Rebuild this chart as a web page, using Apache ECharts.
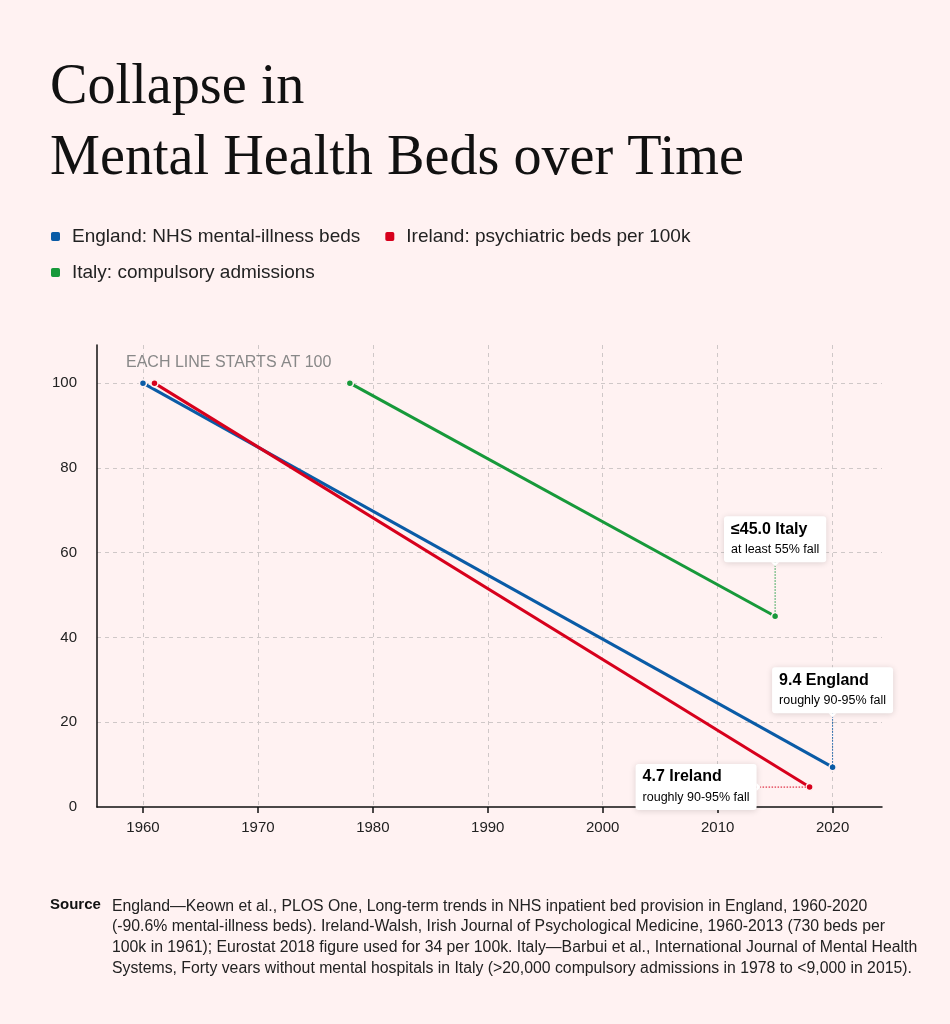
<!DOCTYPE html>
<html>
<head>
<meta charset="utf-8">
<script src="https://cdn.jsdelivr.net/npm/echarts@6/dist/echarts.min.js"></script>
<style>
  html, body { margin: 0; padding: 0; background: #fff2f2; }
  #chart { width: 950px; height: 1024px; }
</style>
</head>
<body>
<div id="chart"></div>
<script>
// each line indexed so its first year = 100
var seriesNames = ['England: NHS mental-illness beds', 'Ireland: psychiatric beds per 100k', 'Italy: compulsory admissions'];
var seriesColors = ['#0a5ba6', '#d7001c', '#17993a'];

var englandYears = [1960, 2020];
var englandValues = [100, 9.4];
var irelandYears = [1961, 2018];
var irelandValues = [100, 4.7];
var italyYears = [1978, 2015];
var italyValues = [100, 45.0];

var xTicks = [1960, 1970, 1980, 1990, 2000, 2010, 2020];

// end-of-line callouts
var calloutTitles = ['9.4 England', '4.7 Ireland', '\u226445.0 Italy'];
var calloutNotes = ['roughly 90-95% fall', 'roughly 90-95% fall', 'at least 55% fall'];

var sourceLines = [
    'England\u2014Keown et al., PLOS One, Long-term trends in NHS inpatient bed provision in England, 1960-2020',
    '(-90.6% mental-illness beds). Ireland-Walsh, Irish Journal of Psychological Medicine, 1960-2013 (730 beds per',
    '100k in 1961); Eurostat 2018 figure used for 34 per 100k. Italy\u2014Barbui et al., International Journal of Mental Health',
    'Systems, Forty vears without mental hospitals in Italy (>20,000 compulsory admissions in 1978 to <9,000 in 2015).'
];

var SANS = '"Liberation Sans", Arial, Helvetica, sans-serif';
var SERIF = '"Liberation Serif", "Times New Roman", serif';

function pairs(xs, ys) {
    var out = [];
    for (var i = 0; i < xs.length; i++) out.push([xs[i], ys[i]]);
    return out;
}

var lineData = [
    pairs(englandYears, englandValues),
    pairs(irelandYears, irelandValues),
    pairs(italyYears, italyValues)
];

var chart = echarts.init(document.getElementById('chart'));

var series = [];
for (var i = 0; i < 3; i++) {
    series.push({
        name: seriesNames[i],
        type: 'line',
        data: lineData[i],
        symbol: 'circle',
        symbolSize: 7,
        showAllSymbol: true,
        z: 3,
        lineStyle: { color: seriesColors[i], width: 3 },
        itemStyle: { color: seriesColors[i], borderColor: '#fff2f2', borderWidth: 1.5 },
        emphasis: { disabled: true },
        animation: false
    });
}

var legendText = { fontFamily: SANS, fontSize: 19, color: '#222', padding: [0, 0, 0, 6] };

var option = {
    backgroundColor: '#fff2f2',
    animation: false,
    legend: [{
        left: 49, top: 227, padding: 0,
        itemWidth: 11, itemHeight: 11, itemGap: 23,
        icon: 'roundRect',
        textStyle: legendText,
        selectedMode: false,
        data: [seriesNames[0], seriesNames[1]]
    }, {
        left: 49, top: 263, padding: 0,
        itemWidth: 11, itemHeight: 11,
        icon: 'roundRect',
        textStyle: legendText,
        selectedMode: false,
        data: [seriesNames[2]]
    }],
    grid: { left: 97, right: 68, top: 345, bottom: 217, containLabel: false },
    xAxis: {
        type: 'value',
        min: 1956, max: 2024.3,
        axisLine: { show: true, lineStyle: { color: '#111', width: 1.5 } },
        axisTick: { show: true, customValues: xTicks, length: 6, lineStyle: { color: '#111', width: 1.5 } },
        axisLabel: { customValues: xTicks, fontFamily: SANS, fontSize: 15, color: '#222', margin: 13,
            formatter: function (v) { return String(v); } },
        splitLine: { show: true, lineStyle: { color: '#cfc8c8', type: [4, 4], width: 1 } }
    },
    yAxis: {
        type: 'value',
        min: 0, max: 109, interval: 20,
        axisLine: { show: true, lineStyle: { color: '#111', width: 1.5 } },
        axisTick: { show: false },
        axisLabel: { fontFamily: SANS, fontSize: 15, color: '#222', margin: 20, showMaxLabel: false,
            padding: [0, 0, 12, 0],
            formatter: function (v) { return v % 20 === 0 ? String(v) : ''; } },
        splitLine: { show: true, showMinLine: false, showMaxLine: false,
            lineStyle: { color: '#cfc8c8', type: [4, 4], width: 1 } }
    },
    series: series
};

chart.setOption(option);

// static texts
var graphics = [
    { type: 'text', left: 50, top: 60, style: { text: 'Collapse in', fontFamily: SERIF, fontSize: 56.2, fill: '#111' } },
    { type: 'text', left: 50, top: 131, style: { text: 'Mental Health Beds over Time', fontFamily: SERIF, fontSize: 56.2, fill: '#111' } },
    { type: 'text', left: 126, top: 355, style: { text: 'EACH LINE STARTS AT 100', fontFamily: SANS, fontSize: 16, lineHeight: 16, fill: '#888' } },
    { type: 'text', left: 50, top: 895, style: { text: 'Source', fontFamily: SANS, fontSize: 15, lineHeight: 20.7, fontWeight: 'bold', fill: '#111' } },
    { type: 'text', left: 112, top: 896, style: { text: sourceLines.join('\n'), fontFamily: SANS, fontSize: 15.8, lineHeight: 20.7, fill: '#222' } }
];

// callouts anchored to the last point of each series
function lastPoint(idx) {
    var d = lineData[idx][lineData[idx].length - 1];
    return chart.convertToPixel({ seriesIndex: idx }, d);
}

function callout(idx, place) {
    var p = lastPoint(idx);
    var color = seriesColors[idx];
    var txt = {
        type: 'text', z: 10,
        style: {
            text: '{t|' + calloutTitles[idx] + '}\n{s|' + calloutNotes[idx] + '}',
            rich: {
                t: { fontFamily: SANS, fontSize: 16, fontWeight: 'bold', color: '#111', lineHeight: 18, align: 'left' },
                s: { fontFamily: SANS, fontSize: 12.5, color: '#222', lineHeight: 22, align: 'left' }
            },
            backgroundColor: '#ffffff',
            borderRadius: 3,
            padding: [4, 7, 2, 7],
            shadowBlur: 6,
            shadowColor: 'rgba(0,0,0,0.14)',
            shadowOffsetY: 1
        }
    };
    var conn, tri;
    if (place === 'above') {
        var gap = 54;
        txt.x = p[0]; txt.y = p[1] - gap;
        txt.style.align = 'center';
        txt.style.verticalAlign = 'bottom';
        conn = { type: 'line', z: 4, shape: { x1: p[0], y1: p[1] - gap, x2: p[0], y2: p[1] },
            style: { stroke: color, lineWidth: 1, lineDash: [1.5, 1.5] } };
        tri = { type: 'polygon', z: 11, shape: { points: [[p[0] - 4, p[1] - gap], [p[0] + 4, p[1] - gap], [p[0], p[1] - gap + 4]] },
            style: { fill: '#ffffff' } };
    } else {
        var gapX = 53;
        txt.x = p[0] - gapX; txt.y = p[1];
        txt.style.align = 'right';
        txt.style.verticalAlign = 'middle';
        conn = { type: 'line', z: 4, shape: { x1: p[0] - gapX, y1: p[1], x2: p[0], y2: p[1] },
            style: { stroke: color, lineWidth: 1, lineDash: [1.5, 1.5] } };
        tri = { type: 'polygon', z: 11, shape: { points: [[p[0] - gapX, p[1] - 4], [p[0] - gapX, p[1] + 4], [p[0] - gapX + 4, p[1]]] },
            style: { fill: '#ffffff' } };
    }
    graphics.push(conn, txt, tri);
}

callout(0, 'above');
callout(1, 'left');
callout(2, 'above');

chart.setOption({ graphic: graphics });
</script>
</body>
</html>
